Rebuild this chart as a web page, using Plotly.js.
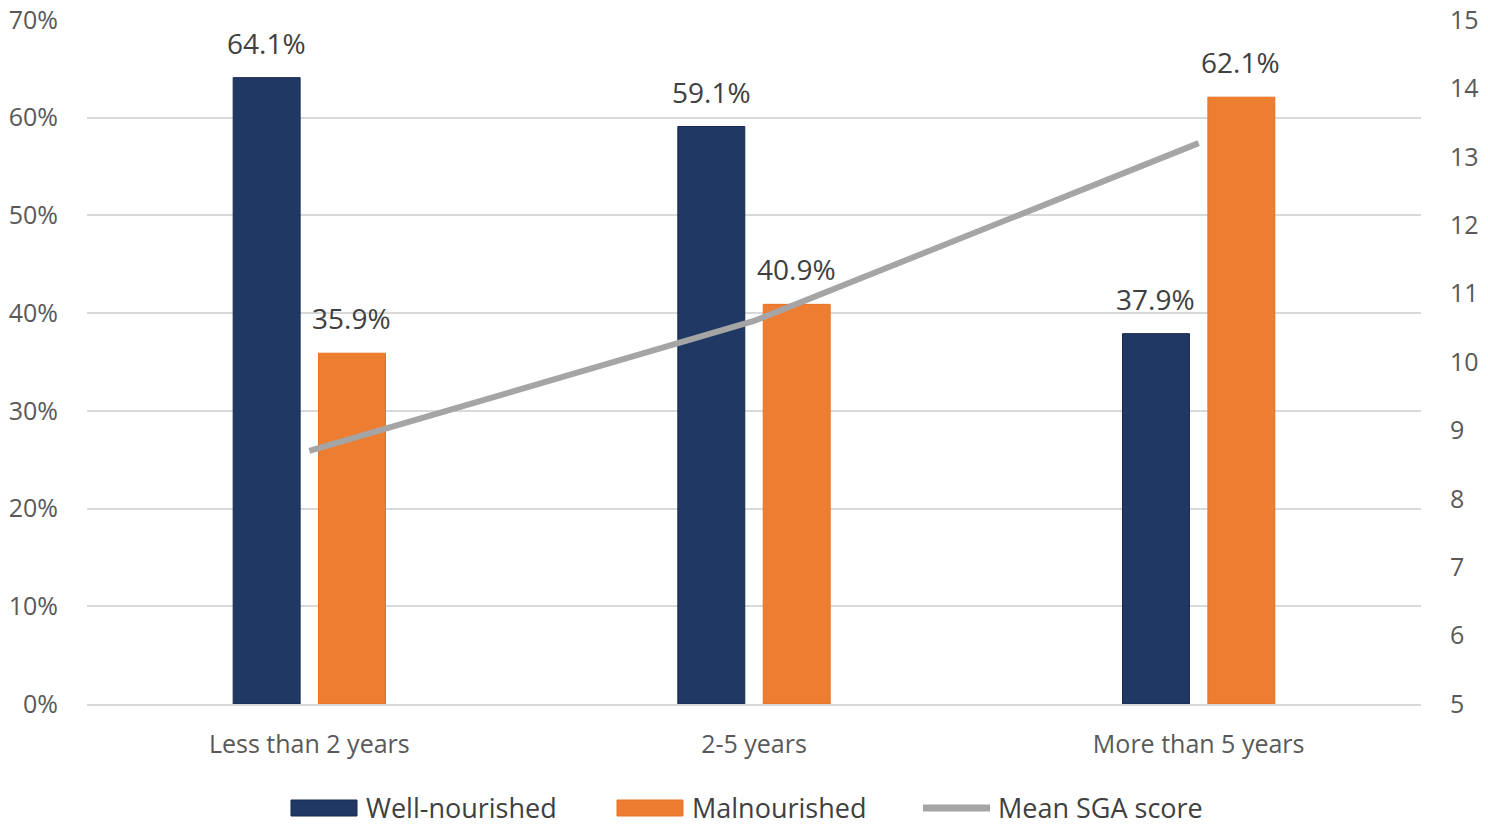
<!DOCTYPE html>
<html>
<head>
<meta charset="utf-8">
<script src="https://cdn.plot.ly/plotly-3.0.1.min.js"></script>
<style>
  html, body { margin: 0; padding: 0; background: #fff; }
  #chart { width: 1488px; height: 828px; }
</style>
</head>
<body>
<div id="chart"></div>
<script>
// duration groups
let categories = ["Less than 2 years", "2-5 years", "More than 5 years"];
// share of patients (%)
let wellNourished = [64.1, 59.1, 37.9];
let malnourished = [35.9, 40.9, 62.1];
// mean SGA score (right axis)
let meanSga = [8.7, 10.6, 13.2];

let fontFamily = "Open Sans, sans-serif";
let tickFont = { family: fontFamily, size: 25, color: "#595959" };
let darkBlue = "#203864";
let orange = "#ED7D31";
let grey = "#A5A5A5";

let wellTrace = {
    x: categories,
    y: wellNourished,
    name: "Well-nourished",
    type: "bar",
    marker: { color: darkBlue, line: { color: "#15294d", width: 1 } },
    hoverinfo: "skip"
};
let malTrace = {
    x: categories,
    y: malnourished,
    name: "Malnourished",
    type: "bar",
    marker: { color: orange, line: { color: "#E9701F", width: 1 } },
    hoverinfo: "skip"
};
let sgaTrace = {
    x: categories,
    y: meanSga,
    name: "Mean SGA score",
    type: "scatter",
    mode: "lines",
    yaxis: "y2",
    line: { color: grey, width: 6 },
    hoverinfo: "skip"
};

// plot box in pixels, used for the hand-made legend
let margin = { l: 87, r: 67, t: 20, b: 124 };
let plotW = 1488 - margin.l - margin.r;
let plotH = 828 - margin.t - margin.b;
let px = x => (x - margin.l) / plotW;
let py = y => (828 - margin.b - y) / plotH;

// value labels above each bar
let labels = [];
categories.forEach((c, i) => {
    labels.push({ x: c, y: wellNourished[i], text: wellNourished[i].toFixed(1) + "%", xshift: -43 });
    labels.push({ x: c, y: malnourished[i], text: malnourished[i].toFixed(1) + "%", xshift: 42 });
});
labels = labels.map(a => Object.assign(a, {
    xref: "x", yref: "y", showarrow: false, yanchor: "bottom", yshift: 14,
    font: { family: fontFamily, size: 28, color: "#404040" }
}));

// legend: wide swatches like the original
let legendY = 808;
let legendItems = [
    { name: wellTrace.name, kind: "box", color: darkBlue, line: "#15294d", x0: 291, x1: 357, tx: 364 },
    { name: malTrace.name, kind: "box", color: orange, line: "#E9701F", x0: 617, x1: 683, tx: 690 },
    { name: sgaTrace.name, kind: "line", color: grey, x0: 923, x1: 990, tx: 996 }
];
let shapes = legendItems.map(it => it.kind === "box"
    ? { type: "rect", xref: "paper", yref: "paper", x0: px(it.x0), x1: px(it.x1),
        y0: py(legendY - 8), y1: py(legendY + 8),
        fillcolor: it.color, line: { color: it.line, width: 1 } }
    : { type: "line", xref: "paper", yref: "paper", x0: px(it.x0), x1: px(it.x1),
        y0: py(legendY), y1: py(legendY), line: { color: it.color, width: 7 } });
legendItems.forEach(it => labels.push({
    xref: "paper", yref: "paper", x: px(it.tx), y: py(legendY), xanchor: "left", yanchor: "middle",
    showarrow: false, text: it.name, font: { family: fontFamily, size: 27, color: "#404040" }
}));

let layout = {
    width: 1488,
    height: 828,
    margin: margin,
    paper_bgcolor: "#ffffff",
    plot_bgcolor: "#ffffff",
    barmode: "group",
    bargap: 0.616,
    bargroupgap: 0.216,
    showlegend: false,
    xaxis: {
        type: "category",
        tickfont: tickFont,
        showgrid: false,
        showline: true,
        linecolor: "#d9d9d9",
        linewidth: 2,
        ticks: "",
        ticklabelstandoff: 17
    },
    yaxis: {
        range: [0, 70],
        dtick: 10,
        ticksuffix: "%",
        tickfont: tickFont,
        showgrid: true,
        gridcolor: "#d9d9d9",
        gridwidth: 2,
        zeroline: false,
        ticks: "",
        ticklabelstandoff: 28,
        ticklabeloverflow: "allow"
    },
    yaxis2: {
        overlaying: "y",
        side: "right",
        range: [5, 15],
        dtick: 1,
        tickfont: tickFont,
        showgrid: false,
        zeroline: false,
        ticks: "",
        ticklabelstandoff: 28,
        ticklabeloverflow: "allow"
    },
    shapes: shapes,
    annotations: labels
};

Plotly.newPlot("chart", [wellTrace, malTrace, sgaTrace], layout, { displayModeBar: false, staticPlot: true });
</script>
</body>
</html>
